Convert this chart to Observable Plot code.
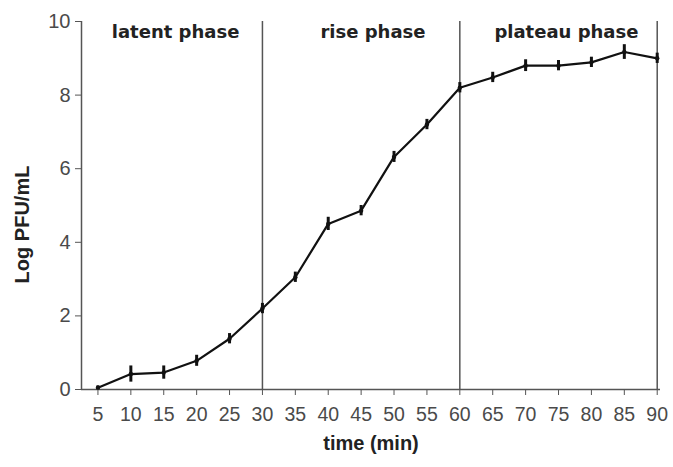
<!DOCTYPE html>
<html><head><meta charset="utf-8">
<script src="https://cdn.jsdelivr.net/npm/d3@7"></script>
<script src="https://cdn.jsdelivr.net/npm/@observablehq/plot@0.6"></script>
<style>
body{margin:0;background:#fff;} svg{display:block;}
g[aria-label="x-axis tick label"]{font-size:19.5px !important;}
g[aria-label="y-axis tick label"]{font-size:20px !important;}
</style>
</head><body><div id="chart"></div>
<script>
const times = [5,10,15,20,25,30,35,40,45,50,55,60,65,70,75,80,85,90];
const logPFU = [0.05,0.42,0.46,0.78,1.38,2.2,3.05,4.5,4.86,6.32,7.2,8.2,8.48,8.8,8.8,8.89,9.17,9.0];
const errors = [0.05,0.22,0.18,0.15,0.14,0.14,0.14,0.18,0.14,0.15,0.14,0.14,0.14,0.16,0.14,0.14,0.2,0.14];
const phaseBounds = [30,60,90];
const phaseLabels = ["latent phase","rise phase","plateau phase"];
const phaseLabelX = [16.8,46.8,76.2];
const yTicks = [0,2,4,6,8,10];

const data = times.map((t,i)=>({t, v: logPFU[i], e: errors[i]}));
const labels = phaseLabels.map((s,i)=>({s, x: phaseLabelX[i]}));

const font = "'Liberation Sans',Arial,sans-serif";
const chart = Plot.plot({
  width: 673, height: 467,
  marginLeft: 81, marginRight: 13, marginTop: 21, marginBottom: 78,
  style: {fontFamily: font, fontSize: "19px", color: "#444", background: "#fff"},
  x: {domain: [2.5, 90.5], label: null},
  y: {domain: [0, 10], label: null},
  marks: [
    Plot.ruleX(phaseBounds, {y1: 0, y2: 10, stroke: "#555", strokeWidth: 1.5}),
    Plot.ruleX([2.5], {y1: 0, y2: 10, stroke: "#555", strokeWidth: 1.5}),
    Plot.ruleY([0], {x1: 2.5, x2: 90.5, stroke: "#555", strokeWidth: 1.5}),
    Plot.axisX({ticks: times, tickSize: 6, tickPadding: 12, stroke: "#555", fill: "#4a4a4a", label: null}),
    Plot.axisY({ticks: yTicks, tickSize: 6, tickPadding: 5, stroke: "#555", fill: "#4a4a4a", label: null}),
    Plot.line(data, {x: "t", y: "v", stroke: "#111", strokeWidth: 2.2}),
    Plot.ruleX(data, {x: "t", y1: d => d.v - d.e, y2: d => d.v + d.e, stroke: "#111", strokeWidth: 3}),
    Plot.dot(data, {x: "t", y: "v", r: 2.2, fill: "#111"}),
    Plot.text(labels, {x: "x", y: 9.72, text: "s", fontWeight: "bold", fontSize: 18, fill: "#222", fontFamily: "'DejaVu Sans',sans-serif"}),
    Plot.text(["Log PFU/mL"], {frameAnchor: "left", textAnchor: "middle", dx: -59, dy: 19, rotate: -90, fontWeight: "bold", fontSize: 20, fill: "#222", fontFamily: font}),
    Plot.text(["time (min)"], {frameAnchor: "bottom", dy: 60, fontWeight: "bold", fontSize: 20, fill: "#222", fontFamily: font})
  ]
});
document.getElementById("chart").appendChild(chart);
</script>
</body></html>
